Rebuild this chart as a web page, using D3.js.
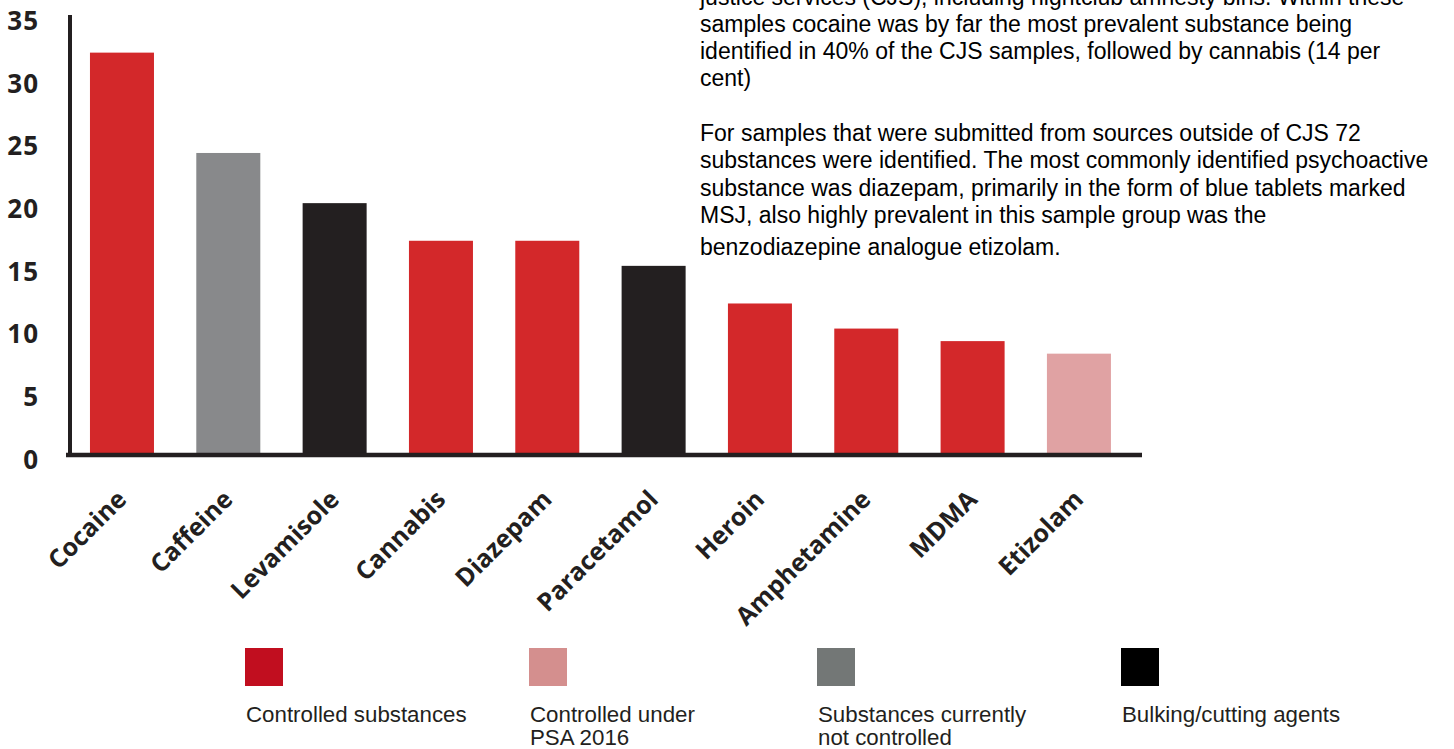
<!DOCTYPE html>
<html>
<head>
<meta charset="utf-8">
<script src="https://cdn.jsdelivr.net/npm/d3@7/dist/d3.min.js"></script>
<style>
  html, body { margin: 0; padding: 0; background: #ffffff; }
  svg { display: block; }
</style>
</head>
<body>
<svg id="chart" width="1454" height="749"></svg>
<script>
// Substances identified, share of samples (per cent)
const substances = ["Cocaine", "Caffeine", "Levamisole", "Cannabis", "Diazepam",
                    "Paracetamol", "Heroin", "Amphetamine", "MDMA", "Etizolam"];
const shares = [32, 24, 20, 17, 17, 15, 12, 10, 9, 8];
const substanceGroup = ["controlled", "uncontrolled", "cutting", "controlled", "controlled",
                        "cutting", "controlled", "controlled", "controlled", "psa"];
const yTicks = [0, 5, 10, 15, 20, 25, 30, 35];

// Legend entries
const legendKeys = ["controlled", "psa", "uncontrolled", "cutting"];
const legendLabels = [["Controlled substances"], ["Controlled under", "PSA 2016"],
                      ["Substances currently", "not controlled"], ["Bulking/cutting agents"]];

// Notes shown beside the chart
const noteLines = [
  "justice services (CJS), including nightclub amnesty bins. Within these",
  "samples cocaine was by far the most prevalent substance being",
  "identified in 40% of the CJS samples, followed by cannabis (14 per",
  "cent)",
  "",
  "For samples that were submitted from sources outside of CJS 72",
  "substances were identified. The most commonly identified psychoactive",
  "substance was diazepam, primarily in the form of blue tablets marked",
  "MSJ, also highly prevalent in this sample group was the",
  "benzodiazepine analogue etizolam."
];

// Styling
const barColor = { controlled: "#d3282a", psa: "#e0a2a3", uncontrolled: "#88898b", cutting: "#231f20" };
const keyColor = { controlled: "#c10e1f", psa: "#d48f8e", uncontrolled: "#737776", cutting: "#000000" };
const ink = "#231f20";
const labelFont = "'Open Sans', 'DejaVu Sans', sans-serif";
const textFont = "'Liberation Sans', Arial, Helvetica, sans-serif";

const svg = d3.select("#chart");

const y = d3.scaleLinear().domain([0, 35]).range([454, 15]);
const x = d3.scaleBand()
  .domain(substances)
  .range([68.7, 1132.2])
  .paddingInner(0.398)
  .paddingOuter(0.2);

// Bars
svg.append("g")
  .selectAll("rect")
  .data(substances)
  .join("rect")
  .attr("x", d => x(d))
  .attr("width", x.bandwidth())
  .attr("y", (d, i) => y(shares[i]))
  .attr("height", (d, i) => y(0) - y(shares[i]))
  .attr("fill", (d, i) => barColor[substanceGroup[i]]);

// Y axis
const yAxis = svg.append("g")
  .attr("transform", "translate(70,0)")
  .call(d3.axisLeft(y).tickValues(yTicks).tickSize(0).tickPadding(31).tickFormat(d3.format("d")));
yAxis.select(".domain")
  .attr("stroke", ink)
  .attr("stroke-width", 4)
  .attr("d", `M0,${y(35)}V${y(0) + 2}`);
yAxis.selectAll("text")
  .attr("fill", ink)
  .attr("font-family", labelFont)
  .attr("font-weight", 700)
  .attr("font-size", 26)
  .attr("letter-spacing", 1)
  .attr("transform", "translate(0,6)");

// X axis
const xAxis = svg.append("g")
  .attr("transform", `translate(0,${y(0)})`)
  .call(d3.axisBottom(x).tickSize(0).tickPadding(0));
xAxis.select(".domain").remove();
svg.append("line")
  .attr("x1", 66).attr("x2", 1142)
  .attr("y1", y(0) + 1).attr("y2", y(0) + 1)
  .attr("stroke", ink)
  .attr("stroke-width", 4.5);
xAxis.selectAll("text")
  .attr("fill", ink)
  .attr("font-family", labelFont)
  .attr("font-weight", 700)
  .attr("font-size", 25)
  .attr("text-anchor", "end")
  .attr("dy", 0)
  .attr("y", 0)
  .attr("transform", "translate(6,47) rotate(-45)");

// Legend
const legendX = [245, 529, 817, 1121];
const legend = svg.append("g")
  .selectAll("g")
  .data(legendKeys)
  .join("g")
  .attr("transform", (d, i) => `translate(${legendX[i]},648)`);
legend.append("rect")
  .attr("width", 38)
  .attr("height", 38)
  .attr("fill", d => keyColor[d]);
legend.append("text")
  .attr("fill", ink)
  .attr("font-family", textFont)
  .attr("font-size", 22.3)
  .selectAll("tspan")
  .data((d, i) => legendLabels[i])
  .join("tspan")
  .attr("x", 1)
  .attr("y", (d, j) => 73.5 + j * 23.5)
  .text(d => d);

// Notes
svg.append("g")
  .selectAll("text")
  .data(noteLines)
  .join("text")
  .attr("x", 700)
  .attr("y", (d, i) => 4.5 + i * 27.3 + (i === noteLines.length - 1 ? 5 : 0))
  .attr("fill", "#000000")
  .attr("font-family", textFont)
  .attr("font-size", 23)
  .text(d => d);
</script>
</body>
</html>
